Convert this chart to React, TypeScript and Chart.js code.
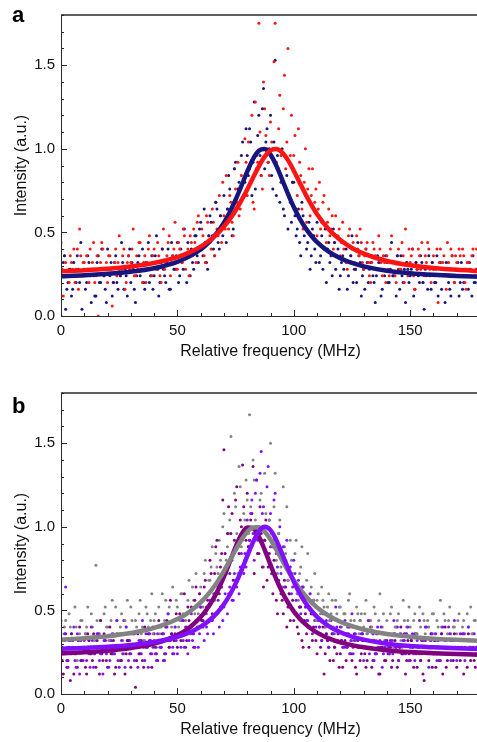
import { useEffect, useRef } from "react";
import { Chart, registerables } from "chart.js";

Chart.register(...registerables);

// x grids of the measured points (MHz): sweep 1 on whole MHz, sweep 2 offset by 0.5 MHz
const freq = Array.from({ length: 179 }, (_, i) => i);
const freq2 = Array.from({ length: 179 }, (_, i) => i + 0.5);

// Panel a – measured intensities
const blueA = [
  0.00, 0.32, 0.04, 0.20, 0.28, 0.16, 0.24, 0.36, 0.20, 0.04,
  0.28, 0.20, 0.32, 0.08, 0.24, 0.12, 0.36, 0.20, 0.28, 0.16,
  0.40, 0.24, 0.12, 0.32, 0.20, 0.28, 0.44, 0.16, 0.24, 0.36,
  0.20, 0.28, 0.08, 0.32, 0.24, 0.40, 0.16, 0.28, 0.20, 0.36,
  0.24, 0.48, 0.12, 0.32, 0.28, 0.20, 0.40, 0.16, 0.36, 0.28,
  0.44, 0.24, 0.32, 0.52, 0.20, 0.36, 0.40, 0.28, 0.48, 0.32,
  0.56, 0.36, 0.44, 0.28, 0.60, 0.48, 0.36, 0.64, 0.40, 0.52,
  0.72, 0.44, 0.84, 0.60, 0.52, 0.92, 0.76, 0.68, 1.04, 0.80,
  0.96, 1.12, 0.72, 1.28, 0.88, 1.20, 0.84, 1.36, 1.04, 0.92,
  1.20, 0.76, 1.53, 0.96, 0.68, 1.00, 0.60, 0.84, 0.72, 0.56,
  0.80, 0.48, 0.64, 0.36, 0.60, 0.72, 0.44, 0.28, 0.52, 0.40,
  0.56, 0.32, 0.48, 0.40, 0.20, 0.44, 0.36, 0.52, 0.28, 0.40,
  0.24, 0.36, 0.44, 0.16, 0.32, 0.48, 0.28, 0.20, 0.36, 0.12,
  0.28, 0.40, 0.20, 0.32, 0.24, 0.08, 0.36, 0.28, 0.16, 0.24,
  0.32, 0.20, 0.44, 0.24, 0.12, 0.28, 0.36, 0.20, 0.08, 0.28,
  0.24, 0.40, 0.16, 0.28, 0.20, 0.32, 0.04, 0.24, 0.36, 0.16,
  0.28, 0.20, 0.12, 0.32, 0.24, 0.08, 0.28, 0.16, 0.36, 0.20,
  0.24, 0.12, 0.32, 0.20, 0.28, 0.16, 0.24, 0.36, 0.20,
];
const blueA2 = [
  0.24, 0.36, 0.16, 0.28, 0.12, 0.32, 0.20, 0.28, 0.44, 0.24,
  0.16, 0.36, 0.24, 0.28, 0.12, 0.32, 0.20, 0.40, 0.24, 0.08,
  0.28, 0.32, 0.20, 0.36, 0.16, 0.24, 0.32, 0.28, 0.12, 0.40,
  0.32, 0.16, 0.24, 0.36, 0.28, 0.20, 0.32, 0.44, 0.24, 0.16,
  0.36, 0.28, 0.20, 0.40, 0.24, 0.32, 0.16, 0.44, 0.28, 0.36,
  0.20, 0.40, 0.28, 0.36, 0.44, 0.24, 0.32, 0.48, 0.36, 0.52,
  0.40, 0.64, 0.32, 0.48, 0.56, 0.40, 0.68, 0.44, 0.60, 0.48,
  0.56, 0.64, 0.76, 0.48, 0.88, 0.64, 0.80, 0.96, 0.72, 1.12,
  0.84, 1.04, 0.92, 0.76, 1.08, 0.96, 1.24, 0.88, 1.12, 1.00,
  0.84, 1.04, 0.72, 0.88, 0.80, 0.64, 0.76, 0.52, 0.68, 0.80,
  0.60, 0.52, 0.44, 0.68, 0.48, 0.40, 0.56, 0.36, 0.48, 0.32,
  0.44, 0.36, 0.28, 0.52, 0.40, 0.32, 0.24, 0.44, 0.36, 0.16,
  0.32, 0.28, 0.40, 0.24, 0.36, 0.20, 0.28, 0.44, 0.32, 0.24,
  0.16, 0.32, 0.28, 0.36, 0.20, 0.24, 0.32, 0.12, 0.28, 0.36,
  0.20, 0.28, 0.24, 0.32, 0.36, 0.16, 0.24, 0.28, 0.32, 0.20,
  0.28, 0.12, 0.32, 0.24, 0.36, 0.20, 0.28, 0.16, 0.24, 0.32,
  0.20, 0.36, 0.24, 0.16, 0.28, 0.32, 0.20, 0.12, 0.24, 0.28,
  0.32, 0.20, 0.16, 0.28, 0.24, 0.32, 0.12, 0.20, 0.28,
];
const redA = [
  0.44, 0.12, 0.32, 0.24, 0.36, 0.28, 0.20, 0.40, 0.52, 0.24,
  0.32, 0.36, 0.20, 0.28, 0.44, 0.24, 0.00, 0.32, 0.40, 0.28,
  0.20, 0.36, 0.06, 0.32, 0.24, 0.48, 0.28, 0.40, 0.20, 0.36,
  0.32, 0.52, 0.24, 0.28, 0.44, 0.20, 0.36, 0.32, 0.48, 0.24,
  0.40, 0.28, 0.36, 0.20, 0.52, 0.32, 0.44, 0.24, 0.36, 0.56,
  0.28, 0.40, 0.32, 0.48, 0.36, 0.24, 0.44, 0.52, 0.32, 0.60,
  0.40, 0.48, 0.32, 0.56, 0.44, 0.64, 0.36, 0.52, 0.72, 0.44,
  0.60, 0.84, 0.52, 0.68, 0.48, 0.76, 0.92, 0.64, 0.80, 1.06,
  0.72, 0.88, 1.20, 0.64, 0.96, 1.75, 0.84, 1.40, 1.08, 0.92,
  1.16, 1.00, 1.75, 0.88, 1.32, 0.80, 1.44, 1.04, 0.72, 1.20,
  0.96, 0.64, 1.12, 0.84, 0.52, 1.00, 0.76, 0.60, 0.88, 0.68,
  0.48, 0.80, 0.56, 0.72, 0.44, 0.64, 0.52, 0.40, 0.60, 0.48,
  0.36, 0.56, 0.44, 0.28, 0.52, 0.40, 0.32, 0.48, 0.36, 0.44,
  0.28, 0.40, 0.32, 0.20, 0.44, 0.36, 0.28, 0.40, 0.24, 0.32,
  0.36, 0.24, 0.48, 0.32, 0.20, 0.40, 0.28, 0.36, 0.52, 0.24,
  0.32, 0.40, 0.16, 0.28, 0.36, 0.44, 0.24, 0.32, 0.40, 0.20,
  0.36, 0.28, 0.08, 0.40, 0.32, 0.24, 0.44, 0.28, 0.36, 0.20,
  0.32, 0.40, 0.24, 0.36, 0.16, 0.32, 0.28, 0.40, 0.24,
];
const redA2 = [
  0.28, 0.36, 0.24, 0.20, 0.32, 0.40, 0.28, 0.16, 0.36, 0.32,
  0.24, 0.28, 0.40, 0.32, 0.20, 0.36, 0.28, 0.44, 0.24, 0.32,
  0.36, 0.28, 0.20, 0.40, 0.32, 0.24, 0.36, 0.16, 0.32, 0.28,
  0.40, 0.24, 0.36, 0.44, 0.28, 0.32, 0.20, 0.40, 0.28, 0.36,
  0.32, 0.44, 0.24, 0.40, 0.28, 0.36, 0.48, 0.32, 0.40, 0.28,
  0.44, 0.36, 0.52, 0.28, 0.40, 0.48, 0.36, 0.44, 0.56, 0.40,
  0.52, 0.36, 0.60, 0.48, 0.40, 0.56, 0.68, 0.48, 0.60, 0.80,
  0.52, 0.64, 0.72, 0.56, 0.88, 0.68, 0.60, 0.84, 0.72, 0.92,
  1.04, 0.80, 0.68, 1.28, 0.92, 1.10, 0.76, 1.24, 1.00, 0.84,
  1.04, 1.52, 0.92, 1.12, 0.96, 1.24, 0.88, 1.60, 0.96, 0.80,
  1.08, 0.72, 0.92, 0.64, 0.80, 0.56, 0.88, 0.72, 0.48, 0.76,
  0.64, 0.52, 0.68, 0.40, 0.56, 0.48, 0.60, 0.44, 0.36, 0.52,
  0.44, 0.40, 0.32, 0.48, 0.36, 0.44, 0.28, 0.40, 0.52, 0.32,
  0.36, 0.44, 0.24, 0.32, 0.40, 0.28, 0.48, 0.32, 0.36, 0.20,
  0.28, 0.40, 0.32, 0.24, 0.36, 0.28, 0.44, 0.20, 0.32, 0.40,
  0.36, 0.24, 0.32, 0.40, 0.28, 0.20, 0.36, 0.44, 0.28, 0.32,
  0.24, 0.40, 0.32, 0.28, 0.36, 0.16, 0.32, 0.40, 0.24, 0.36,
  0.28, 0.36, 0.40, 0.20, 0.32, 0.28, 0.36, 0.24, 0.40,
];

// Panel b – measured intensities
const grayB = [
  0.36, 0.24, 0.44, 0.28, 0.40, 0.32, 0.52, 0.20, 0.36, 0.44,
  0.28, 0.40, 0.32, 0.48, 0.24, 0.77, 0.36, 0.44, 0.28, 0.52,
  0.40, 0.32, 0.56, 0.28, 0.44, 0.36, 0.48, 0.24, 0.40, 0.32,
  0.52, 0.36, 0.44, 0.28, 0.56, 0.40, 0.32, 0.48, 0.36, 0.60,
  0.44, 0.28, 0.52, 0.40, 0.36, 0.56, 0.48, 0.32, 0.64, 0.40,
  0.52, 0.44, 0.60, 0.36, 0.48, 0.68, 0.40, 0.56, 0.72, 0.48,
  0.64, 0.52, 0.80, 0.60, 0.68, 0.88, 0.56, 0.76, 0.92, 0.64,
  1.08, 0.80, 0.96, 1.54, 0.84, 1.12, 0.72, 1.24, 0.92, 1.04,
  1.16, 1.67, 0.88, 1.28, 1.00, 0.96, 1.20, 0.76, 1.08, 0.84,
  1.50, 0.92, 1.32, 0.72, 1.04, 0.64, 0.88, 1.12, 0.60, 0.80,
  0.68, 0.92, 0.56, 0.76, 0.64, 0.52, 0.84, 0.60, 0.48, 0.72,
  0.56, 0.44, 0.64, 0.52, 0.36, 0.60, 0.48, 0.40, 0.56, 0.44,
  0.52, 0.36, 0.48, 0.40, 0.60, 0.32, 0.44, 0.52, 0.36, 0.48,
  0.40, 0.56, 0.32, 0.44, 0.36, 0.48, 0.28, 0.60, 0.40, 0.32,
  0.44, 0.36, 0.52, 0.28, 0.40, 0.48, 0.32, 0.56, 0.36, 0.44,
  0.40, 0.28, 0.48, 0.36, 0.52, 0.32, 0.44, 0.24, 0.40, 0.36,
  0.48, 0.32, 0.40, 0.56, 0.28, 0.44, 0.36, 0.52, 0.32, 0.40,
  0.36, 0.48, 0.28, 0.44, 0.32, 0.40, 0.52, 0.36, 0.44,
];
const grayB2 = [
  0.32, 0.40, 0.28, 0.48, 0.36, 0.24, 0.40, 0.32, 0.44, 0.28,
  0.36, 0.52, 0.28, 0.40, 0.32, 0.44, 0.36, 0.28, 0.48, 0.40,
  0.32, 0.44, 0.36, 0.52, 0.28, 0.40, 0.32, 0.44, 0.56, 0.36,
  0.44, 0.28, 0.40, 0.48, 0.36, 0.32, 0.52, 0.40, 0.44, 0.36,
  0.48, 0.40, 0.36, 0.60, 0.44, 0.32, 0.52, 0.40, 0.44, 0.56,
  0.40, 0.60, 0.48, 0.44, 0.56, 0.36, 0.64, 0.48, 0.52, 0.60,
  0.56, 0.72, 0.48, 0.68, 0.76, 0.60, 0.84, 0.72, 0.80, 1.00,
  0.76, 0.88, 1.04, 0.80, 1.20, 0.96, 1.36, 0.88, 1.08, 1.28,
  0.96, 1.12, 1.40, 1.04, 0.84, 1.16, 0.92, 1.32, 0.96, 1.04,
  0.88, 1.12, 0.80, 0.96, 0.76, 1.24, 0.84, 0.68, 0.92, 0.72,
  0.84, 0.60, 0.72, 0.88, 0.56, 0.68, 0.52, 0.64, 0.56, 0.44,
  0.60, 0.48, 0.56, 0.40, 0.52, 0.44, 0.56, 0.36, 0.48, 0.52,
  0.40, 0.48, 0.36, 0.56, 0.44, 0.40, 0.32, 0.48, 0.44, 0.36,
  0.48, 0.36, 0.44, 0.40, 0.52, 0.32, 0.44, 0.36, 0.48, 0.28,
  0.36, 0.48, 0.32, 0.40, 0.44, 0.36, 0.28, 0.44, 0.40, 0.52,
  0.32, 0.44, 0.36, 0.28, 0.40, 0.48, 0.36, 0.44, 0.32, 0.48,
  0.36, 0.44, 0.28, 0.40, 0.48, 0.32, 0.44, 0.36, 0.40, 0.28,
  0.44, 0.32, 0.40, 0.36, 0.48, 0.28, 0.36, 0.44, 0.32,
];
const purpleB = [
  0.28, 0.12, 0.36, 0.20, 0.08, 0.32, 0.24, 0.16, 0.40, 0.20,
  0.28, 0.12, 0.32, 0.24, 0.36, 0.16, 0.28, 0.44, 0.20, 0.32,
  0.16, 0.40, 0.24, 0.12, 0.36, 0.28, 0.20, 0.44, 0.24, 0.32,
  0.16, 0.28, 0.04, 0.36, 0.24, 0.20, 0.40, 0.28, 0.32, 0.16,
  0.36, 0.24, 0.44, 0.28, 0.20, 0.40, 0.32, 0.56, 0.24, 0.36,
  0.28, 0.48, 0.36, 0.60, 0.32, 0.44, 0.52, 0.28, 0.64, 0.40,
  0.52, 0.44, 0.68, 0.56, 0.80, 0.48, 0.72, 0.92, 0.60, 0.84,
  1.46, 0.76, 1.12, 0.96, 0.68, 1.16, 0.88, 1.04, 1.37, 0.80,
  1.20, 0.92, 1.08, 0.72, 1.28, 0.84, 0.96, 0.64, 1.04, 0.76,
  0.88, 0.60, 0.72, 0.48, 0.84, 0.56, 0.68, 0.40, 0.60, 0.52,
  0.44, 0.64, 0.36, 0.52, 0.28, 0.48, 0.40, 0.56, 0.32, 0.44,
  0.24, 0.40, 0.32, 0.12, 0.36, 0.28, 0.44, 0.20, 0.32, 0.36,
  0.24, 0.16, 0.32, 0.28, 0.40, 0.20, 0.36, 0.12, 0.28, 0.24,
  0.32, 0.16, 0.28, 0.40, 0.20, 0.24, 0.36, 0.12, 0.28, 0.20,
  0.32, 0.24, 0.16, 0.36, 0.28, 0.20, 0.40, 0.24, 0.12, 0.32,
  0.20, 0.28, 0.36, 0.16, 0.24, 0.32, 0.08, 0.28, 0.20, 0.36,
  0.24, 0.16, 0.32, 0.28, 0.12, 0.40, 0.20, 0.28, 0.24, 0.36,
  0.16, 0.28, 0.32, 0.12, 0.24, 0.36, 0.20, 0.28, 0.16,
];
const purpleB2 = [
  0.20, 0.32, 0.16, 0.28, 0.36, 0.12, 0.24, 0.32, 0.20, 0.28,
  0.16, 0.36, 0.24, 0.20, 0.28, 0.32, 0.12, 0.24, 0.36, 0.20,
  0.28, 0.24, 0.32, 0.16, 0.28, 0.20, 0.36, 0.12, 0.32, 0.24,
  0.28, 0.36, 0.20, 0.24, 0.32, 0.16, 0.28, 0.36, 0.24, 0.40,
  0.28, 0.20, 0.32, 0.36, 0.24, 0.44, 0.28, 0.36, 0.32, 0.48,
  0.36, 0.32, 0.44, 0.28, 0.52, 0.40, 0.36, 0.56, 0.44, 0.60,
  0.44, 0.64, 0.52, 0.60, 0.72, 0.56, 0.88, 0.64, 0.76, 1.16,
  0.84, 0.96, 0.72, 1.08, 0.92, 1.24, 0.84, 1.00, 1.12, 0.92,
  0.88, 1.04, 1.36, 0.96, 0.84, 1.12, 0.76, 0.92, 0.68, 0.84,
  0.72, 0.80, 0.56, 0.68, 0.60, 0.48, 0.64, 0.52, 0.44, 0.56,
  0.48, 0.40, 0.52, 0.32, 0.44, 0.36, 0.28, 0.48, 0.40, 0.32,
  0.36, 0.28, 0.40, 0.24, 0.32, 0.20, 0.36, 0.28, 0.24, 0.16,
  0.32, 0.28, 0.20, 0.36, 0.24, 0.28, 0.16, 0.32, 0.20, 0.36,
  0.24, 0.20, 0.28, 0.16, 0.32, 0.24, 0.12, 0.28, 0.36, 0.20,
  0.24, 0.28, 0.20, 0.32, 0.16, 0.28, 0.24, 0.36, 0.20, 0.24,
  0.32, 0.16, 0.24, 0.28, 0.20, 0.12, 0.32, 0.24, 0.28, 0.16,
  0.32, 0.24, 0.20, 0.36, 0.28, 0.16, 0.24, 0.32, 0.20, 0.28,
  0.24, 0.20, 0.36, 0.28, 0.16, 0.24, 0.32, 0.20, 0.28,
];
const violetB = [
  0.44, 0.24, 0.64, 0.16, 0.32, 0.28, 0.20, 0.36, 0.12, 0.28,
  0.32, 0.20, 0.24, 0.40, 0.16, 0.28, 0.36, 0.24, 0.12, 0.32,
  0.28, 0.20, 0.36, 0.24, 0.44, 0.16, 0.32, 0.28, 0.40, 0.20,
  0.24, 0.36, 0.28, 0.16, 0.32, 0.44, 0.20, 0.28, 0.36, 0.24,
  0.32, 0.20, 0.40, 0.28, 0.36, 0.24, 0.48, 0.32, 0.28, 0.40,
  0.24, 0.36, 0.44, 0.28, 0.40, 0.32, 0.48, 0.36, 0.44, 0.28,
  0.52, 0.40, 0.48, 0.36, 0.56, 0.44, 0.60, 0.48, 0.40, 0.64,
  0.52, 0.72, 0.60, 0.80, 0.56, 0.68, 0.88, 0.76, 0.96, 0.84,
  1.04, 0.92, 1.16, 0.80, 1.28, 1.00, 1.45, 1.12, 0.96, 1.36,
  1.08, 0.88, 1.20, 0.76, 1.00, 0.84, 0.64, 0.92, 0.72, 0.60,
  0.80, 0.56, 0.68, 0.48, 0.64, 0.52, 0.44, 0.60, 0.36, 0.48,
  0.52, 0.40, 0.32, 0.48, 0.44, 0.28, 0.40, 0.36, 0.52, 0.32,
  0.40, 0.28, 0.44, 0.36, 0.24, 0.48, 0.32, 0.40, 0.28, 0.36,
  0.20, 0.32, 0.44, 0.28, 0.36, 0.24, 0.40, 0.32, 0.16, 0.28,
  0.36, 0.24, 0.32, 0.44, 0.28, 0.20, 0.36, 0.32, 0.24, 0.40,
  0.28, 0.36, 0.20, 0.32, 0.44, 0.24, 0.28, 0.40, 0.16, 0.32,
  0.24, 0.36, 0.28, 0.20, 0.40, 0.32, 0.24, 0.36, 0.28, 0.44,
  0.20, 0.32, 0.28, 0.36, 0.24, 0.40, 0.28, 0.32, 0.24,
];
const violetB2 = [
  0.28, 0.36, 0.20, 0.32, 0.24, 0.40, 0.16, 0.28, 0.32, 0.20,
  0.36, 0.28, 0.16, 0.32, 0.24, 0.36, 0.20, 0.28, 0.32, 0.24,
  0.16, 0.32, 0.24, 0.28, 0.20, 0.36, 0.24, 0.16, 0.28, 0.32,
  0.36, 0.20, 0.28, 0.32, 0.24, 0.28, 0.36, 0.16, 0.32, 0.28,
  0.24, 0.36, 0.28, 0.32, 0.20, 0.40, 0.28, 0.36, 0.24, 0.32,
  0.36, 0.28, 0.32, 0.40, 0.24, 0.36, 0.32, 0.28, 0.40, 0.36,
  0.44, 0.32, 0.40, 0.52, 0.44, 0.36, 0.48, 0.56, 0.52, 0.44,
  0.60, 0.48, 0.64, 0.56, 0.72, 0.64, 0.60, 0.84, 0.72, 0.76,
  0.88, 1.08, 0.96, 1.20, 0.92, 1.32, 1.08, 0.92, 1.24, 1.04,
  0.96, 1.16, 0.84, 0.96, 0.72, 0.88, 0.80, 0.68, 0.76, 0.64,
  0.72, 0.60, 0.52, 0.64, 0.56, 0.44, 0.52, 0.48, 0.56, 0.40,
  0.44, 0.36, 0.48, 0.40, 0.32, 0.44, 0.36, 0.28, 0.40, 0.44,
  0.32, 0.36, 0.28, 0.40, 0.32, 0.24, 0.36, 0.28, 0.44, 0.32,
  0.28, 0.36, 0.24, 0.32, 0.20, 0.36, 0.28, 0.40, 0.24, 0.32,
  0.28, 0.32, 0.24, 0.36, 0.40, 0.28, 0.24, 0.32, 0.36, 0.20,
  0.32, 0.24, 0.36, 0.28, 0.20, 0.32, 0.40, 0.28, 0.24, 0.36,
  0.32, 0.20, 0.28, 0.36, 0.24, 0.28, 0.40, 0.20, 0.32, 0.24,
  0.28, 0.36, 0.24, 0.20, 0.32, 0.28, 0.24, 0.36, 0.28,
];

// Fitted curves, sampled (MHz)
const fitFreq = [
  0, 10, 20, 30, 40, 50, 55, 60, 62.5, 65, 67.5, 70, 72.5, 75, 77.5, 80, 82.5,
  85, 87.5, 90, 92.5, 95, 97.5, 100, 102.5, 105, 107.5, 110, 115, 120, 125,
  130, 140, 150, 160, 170, 180,
];
const blueFitA = [
  0.237, 0.243, 0.252, 0.265, 0.286, 0.324, 0.355, 0.398, 0.427, 0.463, 0.506,
  0.558, 0.621, 0.695, 0.778, 0.863, 0.939, 0.988, 0.998, 0.965, 0.899, 0.816,
  0.731, 0.652, 0.584, 0.527, 0.48, 0.442, 0.385, 0.345, 0.317, 0.297, 0.271,
  0.256, 0.246, 0.239, 0.234,
];
const redFitA = [
  0.267, 0.273, 0.282, 0.296, 0.317, 0.352, 0.379, 0.415, 0.438, 0.465, 0.497,
  0.535, 0.579, 0.631, 0.691, 0.757, 0.827, 0.895, 0.953, 0.99, 0.999, 0.978,
  0.932, 0.869, 0.799, 0.73, 0.666, 0.609, 0.519, 0.454, 0.407, 0.373, 0.329,
  0.303, 0.287, 0.276, 0.269,
];
const grayFitB = [
  0.325, 0.334, 0.346, 0.365, 0.395, 0.448, 0.49, 0.548, 0.585, 0.628, 0.678,
  0.735, 0.798, 0.861, 0.922, 0.969, 0.996, 0.997, 0.971, 0.924, 0.864, 0.8,
  0.738, 0.681, 0.63, 0.587, 0.549, 0.518, 0.468, 0.432, 0.406, 0.386, 0.359,
  0.343, 0.331, 0.324, 0.318,
];
const purpleFitB = [
  0.243, 0.249, 0.259, 0.275, 0.301, 0.352, 0.395, 0.46, 0.504, 0.558, 0.624,
  0.702, 0.79, 0.879, 0.954, 0.996, 0.991, 0.941, 0.862, 0.772, 0.686, 0.61,
  0.547, 0.494, 0.452, 0.418, 0.39, 0.367, 0.333, 0.309, 0.292, 0.279, 0.262,
  0.251, 0.244, 0.239, 0.235,
];
const violetFitB = [
  0.27, 0.275, 0.282, 0.293, 0.311, 0.342, 0.366, 0.403, 0.427, 0.456, 0.492,
  0.537, 0.592, 0.66, 0.738, 0.824, 0.908, 0.973, 1.0, 0.98, 0.92, 0.838,
  0.752, 0.672, 0.603, 0.545, 0.499, 0.461, 0.406, 0.369, 0.343, 0.325, 0.301,
  0.287, 0.279, 0.273, 0.269,
];

// Tick marks
const xMarks = [0, 10, 20, 30, 40, 50, 60, 70, 80, 90, 100, 110, 120, 130, 140, 150, 160, 170, 180];
const xMajor = [0, 50, 100, 150];
const yMarks = [0, 0.1, 0.2, 0.3, 0.4, 0.5, 0.6, 0.7, 0.8, 0.9, 1.0, 1.1, 1.2, 1.3, 1.4, 1.5, 1.6, 1.7, 1.8];
const yMajor = [0, 0.5, 1.0, 1.5];

const FONT = '"Liberation Sans", Arial, Helvetica, sans-serif';

const NAVY = "#16167e";
const RED = "#ff1414";
const GRAY = "#838383";
const PURPLE = "#800080";
const VIOLET = "#8010ff";

const framePlugin = {
  id: "frame",
  afterDraw(chart: any, _args: any, opts: any) {
    const { ctx, chartArea, scales } = chart;
    const { left, right, top, bottom } = chartArea;
    const x = scales.x;
    const y = scales.y;
    ctx.save();
    ctx.strokeStyle = "#2a2a2a";
    ctx.lineWidth = 1;
    ctx.beginPath();
    ctx.moveTo(left + 0.5, top);
    ctx.lineTo(left + 0.5, bottom + 1);
    ctx.moveTo(left, bottom + 0.5);
    ctx.lineTo(right, bottom + 0.5);
    for (const v of xMarks) {
      const px = Math.round(x.getPixelForValue(v)) + 0.5;
      const len = xMajor.includes(v) ? 6 : 3;
      ctx.moveTo(px, bottom);
      ctx.lineTo(px, bottom - len);
    }
    for (const v of yMarks) {
      const py = Math.round(y.getPixelForValue(v)) + 0.5;
      const len = yMajor.some((m) => Math.abs(m - v) < 1e-6) ? 6 : 3;
      ctx.moveTo(left, py);
      ctx.lineTo(left + len, py);
    }
    ctx.stroke();
    ctx.lineWidth = 1.6;
    ctx.beginPath();
    ctx.moveTo(left, top);
    ctx.lineTo(right, top);
    ctx.stroke();
    ctx.fillStyle = "#000";
    ctx.font = `bold 22px ${FONT}`;
    ctx.textBaseline = "alphabetic";
    ctx.textAlign = "left";
    ctx.fillText(opts.label, 12, opts.labelY);
    ctx.restore();
  },
};

function pts(xs: number[], ys: number[]) {
  return xs.map((v, i) => ({ x: v, y: ys[i] }));
}

function scatterSet(xs: number[], ys: number[], color: string, order: number) {
  return {
    data: pts(xs, ys),
    showLine: false,
    pointRadius: 1.5,
    pointBorderWidth: 0,
    pointBackgroundColor: color,
    backgroundColor: color,
    borderColor: color,
    order,
  };
}

function fitSet(ys: number[], color: string, order: number) {
  return {
    data: pts(fitFreq, ys),
    showLine: true,
    borderColor: color,
    backgroundColor: color,
    borderWidth: 4.5,
    pointRadius: 0,
    cubicInterpolationMode: "monotone",
    fill: false,
    order,
  };
}

function Panel({ top, label, labelY, datasets }: { top: number; label: string; labelY: number; datasets: any[] }) {
  const ref = useRef<HTMLCanvasElement>(null);
  useEffect(() => {
    const chart = new Chart(ref.current as HTMLCanvasElement, {
      type: "scatter",
      data: { datasets },
      options: {
        responsive: false,
        animation: false,
        devicePixelRatio: 1,
        layout: { padding: { top: 5, right: 0, bottom: 0, left: 0 } },
        plugins: {
          legend: { display: false },
          tooltip: { enabled: false },
          frame: { label, labelY },
        } as any,
        scales: {
          x: {
            type: "linear",
            min: 0,
            max: 180,
            grid: { display: false, drawTicks: false },
            border: { display: false },
            ticks: {
              stepSize: 50,
              includeBounds: false,
              padding: 6,
              maxRotation: 0,
              color: "#111",
              font: { family: FONT, size: 15 },
            },
            title: {
              display: true,
              text: "Relative frequency (MHz)",
              color: "#111",
              font: { family: FONT, size: 16 },
              padding: { top: 0, bottom: 8.4 },
            },
            afterFit: (s: any) => {
              s.height = 54;
            },
          },
          y: {
            type: "linear",
            min: 0,
            max: 1.8,
            grid: { display: false, drawTicks: false },
            border: { display: false },
            ticks: {
              stepSize: 0.5,
              includeBounds: false,
              padding: 6,
              color: "#111",
              font: { family: FONT, size: 15 },
              callback: (v: any) => Number(v).toFixed(1),
            },
            title: {
              display: true,
              text: "Intensity (a.u.)",
              color: "#111",
              font: { family: FONT, size: 16 },
              padding: { top: 12.4, bottom: 0 },
            },
            afterFit: (s: any) => {
              s.width = 61;
            },
          },
        },
      } as any,
      plugins: [framePlugin],
    });
    return () => chart.destroy();
  }, []);
  return (
    <canvas
      ref={ref}
      width={484}
      height={370}
      style={{ position: "absolute", left: 0, top, width: 484, height: 370 }}
    />
  );
}

export default function App() {
  const dsA = [
    fitSet(redFitA, RED, 0),
    fitSet(blueFitA, NAVY, 1),
    scatterSet(freq, redA, RED, 2),
    scatterSet(freq2, blueA2, NAVY, 3),
    scatterSet(freq2, redA2, RED, 4),
    scatterSet(freq, blueA, NAVY, 5),
  ];
  const dsB = [
    fitSet(violetFitB, VIOLET, 0),
    fitSet(grayFitB, GRAY, 1),
    fitSet(purpleFitB, PURPLE, 2),
    scatterSet(freq, violetB, VIOLET, 3),
    scatterSet(freq2, purpleB2, PURPLE, 4),
    scatterSet(freq2, grayB2, GRAY, 5),
    scatterSet(freq2, violetB2, VIOLET, 6),
    scatterSet(freq, purpleB, PURPLE, 7),
    scatterSet(freq, grayB, GRAY, 8),
  ];
  return (
    <div
      style={{
        position: "fixed",
        left: 0,
        top: 0,
        width: 477,
        height: 742,
        overflow: "hidden",
        background: "#fff",
      }}
    >
      <Panel top={0} label="a" labelY={22} datasets={dsA} />
      <Panel top={378} label="b" labelY={35} datasets={dsB} />
    </div>
  );
}
